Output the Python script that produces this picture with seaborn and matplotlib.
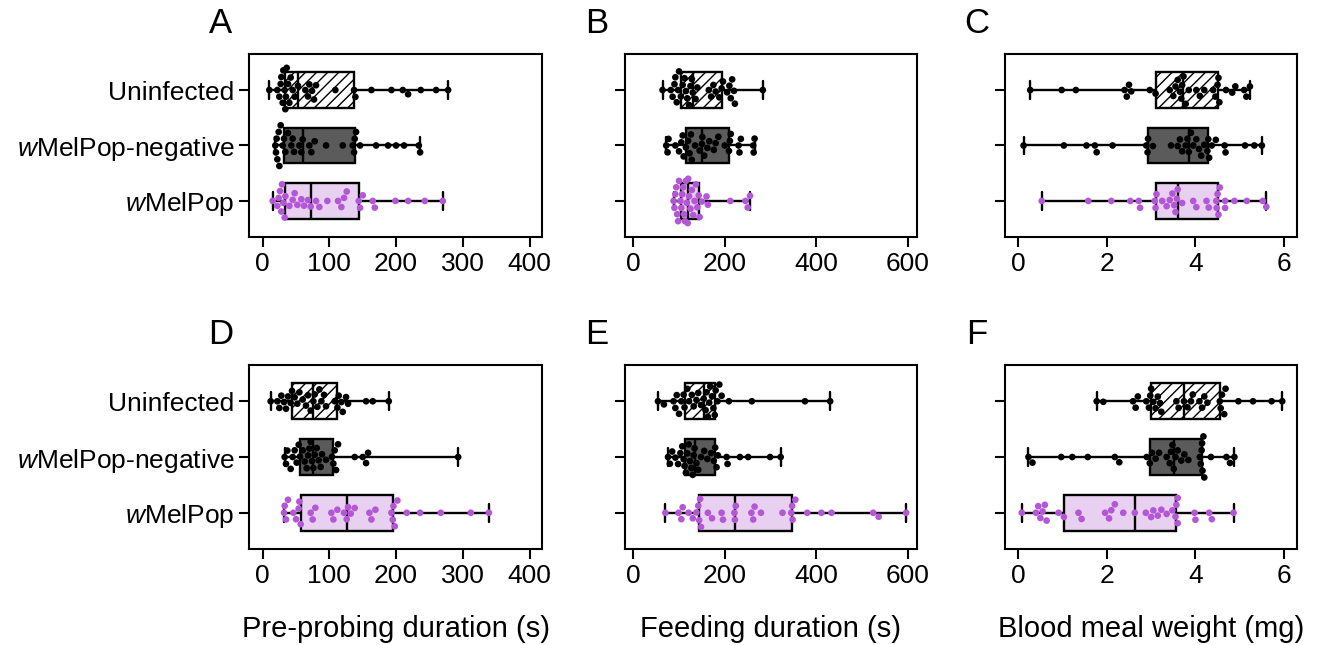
import warnings

import matplotlib
import matplotlib.pyplot as plt
import pandas as pd
import seaborn as sns

matplotlib.use('Agg')
warnings.filterwarnings('ignore')

groups = ['Uninfected', 'wMelPop-negative', 'wMelPop']
group_ticks = ['Uninfected', r'$\mathit{w}$MelPop-negative', r'$\mathit{w}$MelPop']

# panel A, pre-probing duration (s), first experiment
a_uninf = [10, 22, 25, 27, 28, 30, 31, 33, 34, 35, 36, 38, 40, 42, 45, 48, 53,
           64, 68, 70, 74, 77, 80, 109, 137, 139, 163, 193, 210, 218, 237, 260, 278]
a_neg = [19, 20, 21, 22, 24, 25, 27, 30, 32, 34, 38, 43, 45, 47, 55, 58, 60,
         70, 73, 78, 95, 120, 135, 137, 138, 140, 146, 170, 188, 200, 212, 234, 236]
a_pop = [15, 22, 24, 26, 28, 29, 31, 33, 34, 40, 45, 48, 52, 58, 62, 68, 72,
         80, 85, 97, 113, 118, 122, 126, 144, 146, 150, 165, 168, 199, 218, 243, 270]

# panel B, feeding duration (s)
b_uninf = [64, 82, 86, 90, 92, 95, 98, 100, 104, 108, 112, 115, 118, 122, 125, 128, 130,
           136, 140, 165, 170, 175, 180, 188, 193, 196, 205, 210, 213, 216, 220, 222, 283]
b_neg = [72, 75, 77, 92, 100, 105, 108, 110, 115, 120, 123, 126, 128, 135, 145, 150, 151,
         155, 162, 166, 176, 180, 186, 200, 209, 211, 213, 230, 232, 235, 262, 263, 265]
b_pop = [88, 90, 92, 94, 96, 98, 100, 103, 105, 107, 109, 111, 113, 115, 117, 119, 120,
         122, 125, 128, 131, 134, 137, 140, 143, 145, 150, 160, 163, 212, 245, 250, 255]

# panel C, blood meal weight (mg)
c_uninf = [0.27, 0.98, 1.30, 2.40, 2.45, 2.50, 2.55, 2.97, 3.10, 3.42, 3.50, 3.55, 3.60, 3.65, 3.68, 3.70, 3.73,
           3.78, 3.85, 4.02, 4.10, 4.20, 4.40, 4.45, 4.50, 4.52, 4.54, 4.69, 4.83, 4.90, 5.10, 5.15, 5.23]
c_neg = [0.12, 1.03, 1.54, 1.73, 1.77, 2.13, 2.89, 2.92, 2.93, 3.04, 3.45, 3.60, 3.65, 3.70, 3.78, 3.82, 3.85,
         3.90, 3.95, 4.02, 4.08, 4.13, 4.20, 4.27, 4.29, 4.31, 4.37, 4.46, 4.66, 4.68, 5.12, 5.33, 5.50]
c_pop = [0.53, 1.58, 2.10, 2.53, 2.72, 2.75, 3.08, 3.10, 3.12, 3.25, 3.35, 3.42, 3.48, 3.52, 3.55, 3.58, 3.60,
         3.70, 3.95, 4.02, 4.25, 4.30, 4.47, 4.48, 4.50, 4.52, 4.55, 4.67, 4.67, 4.88, 5.16, 5.52, 5.60]

# panel D, pre-probing duration (s), second experiment
d_uninf = [12, 22, 25, 28, 32, 35, 38, 42, 44, 48, 52, 55, 60, 65, 68, 72, 76,
           78, 82, 85, 88, 92, 95, 108, 112, 114, 118, 120, 125, 128, 155, 165, 189]
d_neg = [33, 35, 37, 42, 45, 48, 51, 54, 56, 60, 63, 66, 68, 70, 72, 74, 76,
         78, 81, 84, 87, 89, 95, 104, 106, 108, 110, 113, 138, 150, 155, 158, 293]
d_pop = [32, 33, 35, 38, 46, 50, 54, 55, 57, 72, 75, 79, 103, 106, 112, 122, 126,
         128, 132, 138, 160, 163, 169, 193, 195, 196, 198, 202, 216, 236, 267, 312, 339]

# panel E, feeding duration (s)
e_uninf = [54, 67, 88, 92, 95, 100, 105, 110, 112, 118, 122, 128, 132, 138, 142, 148, 154,
           158, 160, 163, 166, 168, 172, 175, 178, 180, 184, 188, 193, 209, 259, 375, 430]
e_neg = [76, 80, 85, 92, 98, 103, 107, 110, 112, 115, 118, 121, 124, 127, 130, 132, 134,
         138, 142, 148, 155, 162, 170, 176, 179, 182, 185, 204, 206, 233, 251, 299, 322]
e_pop = [70, 99, 105, 108, 121, 130, 138, 142, 144, 146, 148, 163, 172, 193, 196, 221, 222,
         224, 258, 262, 265, 279, 326, 345, 347, 348, 354, 380, 411, 433, 524, 536, 596]

# panel F, blood meal weight (mg)
f_uninf = [1.77, 1.92, 2.59, 2.65, 2.70, 2.89, 2.95, 2.98, 3.00, 3.05, 3.10, 3.15, 3.20, 3.23, 3.57, 3.62, 3.74,
           3.82, 3.90, 3.94, 4.09, 4.15, 4.20, 4.27, 4.55, 4.57, 4.60, 4.65, 4.68, 4.97, 5.30, 5.72, 5.96]
f_neg = [0.23, 0.32, 0.97, 1.22, 1.57, 2.18, 2.28, 2.90, 2.97, 3.02, 3.10, 3.18, 3.35, 3.42, 3.45, 3.48, 3.51,
         3.55, 3.60, 3.68, 3.75, 3.84, 4.10, 4.12, 4.14, 4.15, 4.16, 4.18, 4.20, 4.35, 4.70, 4.78, 4.88]
f_pop = [0.08, 0.40, 0.45, 0.50, 0.55, 0.60, 0.64, 0.91, 1.03, 1.36, 1.43, 1.96, 2.05, 2.10, 2.18, 2.37, 2.63,
         2.88, 3.00, 3.05, 3.15, 3.23, 3.35, 3.48, 3.55, 3.57, 3.60, 3.60, 3.98, 4.00, 4.31, 4.37, 4.86]

panels = [
    ('A', [a_uninf, a_neg, a_pop], (-20.5, 419), [0, 100, 200, 300, 400], ''),
    ('B', [b_uninf, b_neg, b_pop], (-18, 619), [0, 200, 400, 600], ''),
    ('C', [c_uninf, c_neg, c_pop], (-0.3, 6.3), [0, 2, 4, 6], ''),
    ('D', [d_uninf, d_neg, d_pop], (-20.5, 419), [0, 100, 200, 300, 400], 'Pre-probing duration (s)'),
    ('E', [e_uninf, e_neg, e_pop], (-18, 619), [0, 200, 400, 600], 'Feeding duration (s)'),
    ('F', [f_uninf, f_neg, f_pop], (-0.3, 6.3), [0, 2, 4, 6], 'Blood meal weight (mg)'),
]

box_colors = {'Uninfected': 'white', 'wMelPop-negative': '#5b5b5b', 'wMelPop': '#ebcaf6'}
dot_colors = {'Uninfected': 'black', 'wMelPop-negative': 'black', 'wMelPop': '#b457d6'}

sns.set_style('ticks')
plt.rcParams['font.family'] = ['Liberation Sans', 'DejaVu Sans']
plt.rcParams['mathtext.fontset'] = 'custom'
plt.rcParams['mathtext.rm'] = 'Liberation Sans'
plt.rcParams['mathtext.it'] = 'Liberation Sans:italic'
plt.rcParams['hatch.linewidth'] = 1.0
plt.rcParams['hatch.color'] = '#444444'
for key in ['text.color', 'axes.labelcolor', 'xtick.color', 'ytick.color', 'axes.edgecolor']:
    plt.rcParams[key] = 'black'

fig = plt.figure(figsize=(13.18, 6.45), dpi=100)
lefts = [0.1889, 0.4742, 0.7625]
widths = [0.2225, 0.2213, 0.2218]
bottoms = [0.6326, 0.1488]
heights = [0.2837, 0.2853]

for i, (letter, vals, xlim, xticks, xlabel) in enumerate(panels):
    row, col = divmod(i, 3)
    ax = fig.add_axes([lefts[col], bottoms[row], widths[col], heights[row]])

    df = pd.concat([pd.DataFrame({'group': g, 'value': v}) for g, v in zip(groups, vals)],
                   ignore_index=True)

    sns.boxplot(data=df, x='value', y='group', hue='group', order=groups, hue_order=groups,
                palette=box_colors, width=0.64, whis=(0, 100), showfliers=False,
                linewidth=1.7, linecolor='black', legend=False, ax=ax)
    ax.patches[0].set_hatch('///')
    sns.swarmplot(data=df, x='value', y='group', hue='group', order=groups, hue_order=groups,
                  palette=dot_colors, size=4.8, legend=False, ax=ax)

    ax.set_xlim(*xlim)
    ax.set_ylim(2.65, -0.65)
    ax.set_xticks(xticks)
    ax.set_yticks([0, 1, 2])
    if col == 0:
        ax.set_yticklabels(group_ticks)
    else:
        ax.set_yticklabels([])
    ax.set_ylabel('')
    ax.set_xlabel(xlabel, fontsize=21, labelpad=20)
    ax.tick_params(labelsize=19, length=7, width=1.5)
    for sp in ax.spines.values():
        sp.set_linewidth(1.5)
    ax.text(-0.097, 1.115, letter, transform=ax.transAxes, fontsize=25,
            ha='center', va='baseline')

plt.savefig('out.png', dpi=100)
